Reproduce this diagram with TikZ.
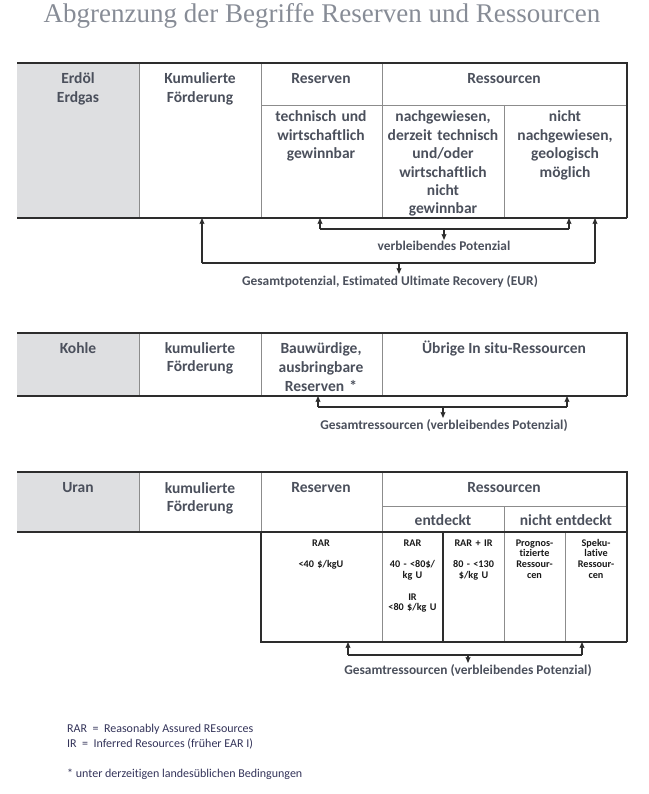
\documentclass[tikz,border=0pt]{standalone}
\usepackage{fontspec}
\setmainfont{Liberation Serif}
\newfontfamily\carlito[Ligatures=NoCommon]{Carlito}
\usetikzlibrary{arrows.meta}

\definecolor{grau}{RGB}{222,223,225}
\definecolor{schrift}{RGB}{75,80,92}
\definecolor{linie}{RGB}{45,45,45}
\definecolor{hilfslinie}{RGB}{140,140,140}
\definecolor{titelfarbe}{RGB}{135,140,150}

\begin{document}
\begin{tikzpicture}[x=1pt,y=-1pt,
    kopf/.style={font=\carlito\bfseries\fontsize{15.5}{18.4}\selectfont, text=schrift,
      anchor=base, align=center, inner sep=0pt},
    zelle/.style={kopf, text width=#1},
    klein/.style={font=\carlito\bfseries\fontsize{10.2}{10.8}\selectfont, text=black!90,
      anchor=base, align=center, inner sep=0pt, text width=60pt},
    marke/.style={font=\carlito\bfseries\fontsize{13.4}{15}\selectfont, text=schrift,
      anchor=north, inner sep=1pt},
    fuss/.style={font=\carlito\fontsize{12}{14}\selectfont, text=black!75!blue!60!gray,
      anchor=base west, inner sep=0pt},
    dick/.style={draw=linie, line width=1.2pt},
    duenn/.style={draw=hilfslinie, line width=0.9pt},
    klammer/.style={draw=linie, line width=1.1pt},
    pfeil/.style={klammer, -{Stealth[length=6pt,width=5pt,inset=1pt]}}]

  \useasboundingbox (0,0) rectangle (648,794);

  % Titel
  \node[font=\fontsize{27}{30}\selectfont, text=titelfarbe, anchor=base, inner sep=0pt]
    (titel) at (322,23) {Abgrenzung der Begriffe Reserven und Ressourcen};

  % ---------------- Erdöl / Erdgas ----------------
  \fill[grau] (17,63) rectangle (139,218);
  \draw[duenn] (139,63) -- (139,218);
  \draw[duenn] (261,63) -- (261,218);
  \draw[duenn] (382,63) -- (382,218);
  \draw[duenn] (504,105) -- (504,218);
  \draw[duenn] (261,105) -- (627,105);
  \draw[dick] (17,63) -- (627,63) -- (627,218);
  \draw[dick] (17,218) -- (627,218);

  \node[zelle=118pt] (erdoel) at (78,84) {Erdöl\\Erdgas};
  \node[zelle=118pt] (kumE) at (200,84) {Kumulierte\\Förderung};
  \node[kopf] (resE) at (321,84) {Reserven};
  \node[kopf] (ressE) at (504,84) {Ressourcen};
  \node[zelle=118pt] (technisch) at (321,122) {technisch und\\wirtschaftlich\\gewinnbar};
  \node[zelle=120pt] (nachgew) at (443,122)
    {nachgewiesen,\\derzeit technisch\\und/oder\\wirtschaftlich\\nicht\\gewinnbar};
  \node[zelle=120pt] (nichtnach) at (565,122) {nicht\\nachgewiesen,\\geologisch\\möglich};

  % Klammern unter der Tabelle
  \coordinate (eUnten) at (0,218);
  \coordinate (e1) at (320,229);
  \coordinate (e2) at (569,229);
  \coordinate (eMitte) at (444,229);
  \coordinate (e3) at (202,263);
  \coordinate (e4) at (595,263);
  \coordinate (eMitte2) at (399,263);
  \node[marke] (verbE) at (444,240) {verbleibendes Potenzial};
  \node[marke] (gesamtE) at (390,274) {Gesamtpotenzial, Estimated Ultimate Recovery (EUR)};

  \draw[klammer] (e1) -- (e2);
  \draw[klammer] (e3) -- (e4);
  \draw[pfeil] (e1) -- (e1 |- eUnten);
  \draw[pfeil] (e2) -- (e2 |- eUnten);
  \draw[pfeil] (e3) -- (e3 |- eUnten);
  \draw[pfeil] (e4) -- (e4 |- eUnten);
  \draw[pfeil] (eMitte) -- (eMitte |- verbE.north);
  \draw[pfeil] (eMitte2) -- (eMitte2 |- gesamtE.north);

  % ---------------- Kohle ----------------
  \fill[grau] (17,333) rectangle (139,396);
  \draw[duenn] (139,333) -- (139,396);
  \draw[duenn] (261,333) -- (261,396);
  \draw[duenn] (382,333) -- (382,396);
  \draw[dick] (17,333) -- (627,333) -- (627,396);
  \draw[dick] (17,396) -- (627,396);

  \node[kopf] (kohle) at (78,353) {Kohle};
  \node[zelle=118pt] (kumK) at (200,353) {kumulierte\\Förderung};
  \node[zelle=118pt, font=\carlito\bfseries\fontsize{15.5}{19}\selectfont] (bauw) at (321,353)
    {Bauwürdige,\\ausbringbare\\Reserven *};
  \node[kopf] (uebrige) at (504,353) {Übrige In situ-Ressourcen};

  \coordinate (kUnten) at (0,396);
  \coordinate (k1) at (318,407);
  \coordinate (k2) at (567,407);
  \coordinate (kMitte) at (443,407);
  \node[marke] (gesamtK) at (444,418) {Gesamtressourcen (verbleibendes Potenzial)};

  \draw[klammer] (k1) -- (k2);
  \draw[pfeil] (k1) -- (k1 |- kUnten);
  \draw[pfeil] (k2) -- (k2 |- kUnten);
  \draw[pfeil] (kMitte) -- (kMitte |- gesamtK.north);

  % ---------------- Uran ----------------
  \fill[grau] (17,472) rectangle (139,532);
  \draw[duenn] (139,472) -- (139,532);
  \draw[duenn] (261,472) -- (261,532);
  \draw[duenn] (382,472) -- (382,642);
  \draw[duenn] (382,506) -- (627,506);
  \draw[duenn] (504,506) -- (504,642);
  \draw[duenn] (565,532) -- (565,642);
  \draw[dick] (17,472) -- (627,472) -- (627,642);
  \draw[dick] (17,532) -- (627,532);
  \draw[dick] (261,532) -- (261,642) -- (627,642);
  \draw[dick] (443,532) -- (443,642);

  \node[kopf] (uran) at (78,492) {Uran};
  \node[zelle=118pt] (kumU) at (200,493) {kumulierte\\Förderung};
  \node[kopf] (resU) at (321,492) {Reserven};
  \node[kopf] (ressU) at (504,492) {Ressourcen};
  \node[kopf] (entdeckt) at (443,525) {entdeckt};
  \node[kopf] (nichtentdeckt) at (566,525) {nicht entdeckt};

  \node[klein] (rar1) at (321,546) {RAR\\[10.8pt]<40 \$/kgU};
  \node[klein] (rar2) at (412.5,546) {RAR\\[10.8pt]40 - <80\$/\\kg U\\[10.8pt]IR\\<80 \$/kg U};
  \node[klein] (rarir) at (473.5,546) {RAR + IR\\[10.8pt]80 - <130\\\$/kg U};
  \node[klein] (prognos) at (534.5,546) {Prognos-\\tizierte\\Ressour-\\cen};
  \node[klein] (speku) at (596,546) {Speku-\\lative\\Ressour-\\cen};

  \coordinate (uUnten) at (0,642);
  \coordinate (u1) at (348,655);
  \coordinate (u2) at (582,655);
  \coordinate (uMitte) at (468,655);
  \node[marke] (gesamtU) at (468,663) {Gesamtressourcen (verbleibendes Potenzial)};

  \draw[klammer] (u1) -- (u2);
  \draw[pfeil] (u1) -- (u1 |- uUnten);
  \draw[pfeil] (u2) -- (u2 |- uUnten);
  \draw[pfeil] (uMitte) -- (uMitte |- gesamtU.north);

  % Fussnoten
  \node[fuss] (fnRAR) at (67,732) {RAR~~=~~Reasonably Assured REsources};
  \node[fuss] (fnIR) at (67,747) {IR~~=~~Inferred Resources (früher EAR I)};
  \node[fuss] (fnStern) at (67,777) {* unter derzeitigen landesüblichen Bedingungen};
\end{tikzpicture}
\end{document}
